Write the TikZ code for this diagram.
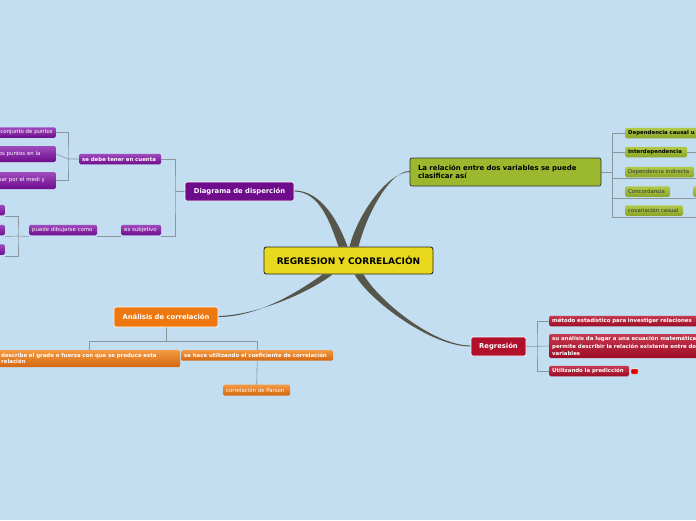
\documentclass[tikz,border=0pt]{standalone}
\usepackage{fontspec}
\setmainfont{DejaVu Sans}
\usetikzlibrary{positioning, calc}
\pgfdeclarelayer{bg}
\pgfsetlayers{bg,main}
\definecolor{bgblue}{HTML}{C3DEF1}
\definecolor{rootyel}{HTML}{E8D81E}
\definecolor{purp}{HTML}{6E0C8C}
\definecolor{purplight}{HTML}{A04CBE}
\definecolor{grn}{HTML}{9CB82E}
\definecolor{grnlight}{HTML}{B2CA4C}
\definecolor{grndark}{HTML}{8AA526}
\definecolor{redd}{HTML}{B0102A}
\definecolor{redlight}{HTML}{C6394E}
\definecolor{reddark}{HTML}{9C0C26}
\definecolor{orng}{HTML}{EE770F}
\definecolor{orlight}{HTML}{F39A42}
\definecolor{ordark}{HTML}{D4660E}
\definecolor{linegrey}{HTML}{8A979D}
\definecolor{curvegrey}{HTML}{57564B}
\tikzset{
  rootbox/.style = {rectangle, rounded corners=2.5pt, draw=black!85,
                    line width=0.9pt, fill=rootyel, minimum width=169pt,
                    minimum height=27pt, inner sep=0pt,
                    font=\fontsize{9}{10}\selectfont\bfseries},
  mmtop/.style   = {rectangle, rounded corners=2pt, draw=white,
                    line width=0.7pt, text=white, inner sep=0pt,
                    minimum height=19pt, align=center,
                    font=\fontsize{6.8}{7.9}\selectfont\bfseries},
  mmleaf/.style  = {rectangle, rounded corners=1.5pt, text=white,
                    inner xsep=3pt, inner ysep=0pt, minimum height=10.5pt,
                    anchor=west, align=left,
                    font=\fontsize{5.4}{6.4}\selectfont},
  leafbf/.style  = {font=\fontsize{5.4}{6.4}\selectfont\bfseries},
  purleaf/.style = {mmleaf, top color=purplight, bottom color=purp},
  grnleaf/.style = {mmleaf, top color=grnlight, bottom color=grndark,
                    text=black!80},
  redleaf/.style = {mmleaf, leafbf, top color=redlight, bottom color=reddark},
  orleaf/.style  = {mmleaf, top color=orlight, bottom color=ordark},
  mmline/.style  = {draw=linegrey, line width=0.6pt},
  mmcurve/.style = {fill=curvegrey},
}
\begin{document}
\begin{tikzpicture}[x=1pt, y=-1pt]
  \useasboundingbox (0,0) rectangle (696,520);
  % central topic and main branches
  \node[rootbox] (root) at (348.5,260.5) {REGRESION Y CORRELACIÓN};
  \node[mmtop, fill=purp, minimum width=109pt] (disp) at (239.5,191.5)
    {Diagrama de disperción};
  \node[mmtop, fill=grn, draw=black!80, text=black, minimum width=191pt,
        minimum height=28pt, text width=175pt, align=left,
        font=\fontsize{6.95}{8}\selectfont\bfseries] (clas) at (505.5,172)
    {La relación entre dos variables se puede\\clasificar así};
  \node[mmtop, fill=redd, minimum width=55pt] (reg) at (498.5,346.5) {Regresión};
  \node[mmtop, fill=orng, minimum width=104pt, minimum height=20pt] (ana)
    at (166,317) {Análisis de correlación};

  % purple branch
  \node[purleaf, leafbf, text width=76pt] (sedebe) at (79,159)
    {se debe tener en cuenta};
  \node[purleaf, text width=34pt] (subj) at (121,230) {es subjetivo};
  \node[purleaf, text width=62pt] (puede) at (29,230) {puede dibujarse como};
  \node[purleaf, anchor=east, text width=72pt, align=right] (conj)
    at (56,132.5) {conjunto de puntos};
  \node[purleaf, anchor=east, text width=54pt, minimum height=16pt] (ptos)
    at (56,154) {os puntos en la};
  \node[purleaf, anchor=east, text width=54pt, minimum height=17pt] (medi)
    at (56,180.5) {sar por el medi y};
  \node[purleaf, anchor=east, text width=14pt] (pa) at (5,210) {};
  \node[purleaf, anchor=east, text width=14pt] (pb) at (5,230) {};
  \node[purleaf, anchor=east, text width=14pt] (pc) at (5,249.5) {};

  % green branch
  \node[grnleaf, leafbf, text=black, text width=82pt] (gcaus) at (625,133)
    {Dependencia causal u};
  \node[grnleaf, leafbf, text=black, text width=56pt] (ginter) at (625,152)
    {Interdependencia};
  \node[grnleaf, text width=63pt] (gindir) at (625,172) {Dependencia indirecta};
  \node[grnleaf, text width=39pt] (gconc) at (625,191.5) {Concordancia};
  \node[grnleaf, text width=8pt] (gmore) at (693,191.5) {};
  \node[grnleaf, text width=52pt] (gcov) at (625,210.5) {covariación casual};

  % red branch
  \node[redleaf, text width=170pt] (rmet) at (549,321)
    {método estadístico para investigar relaciones};
  \node[redleaf, text width=180pt, minimum height=24pt,
        font=\fontsize{5.4}{7.5}\selectfont\bfseries] (rana) at (549,346)
    {su análisis da lugar a una ecuación matemática\\permite describir la
     relación existente entre dos\\variables};
  \node[redleaf, text width=74pt] (rpred) at (549,371) {Utilizando la predicción};
  \node[rectangle, rounded corners=0.5pt, fill=red!90!black, draw=white,
        line width=0.4pt, minimum width=7pt, minimum height=5pt,
        inner sep=0pt] (rmark) at (634.5,371.5) {};

  % orange branch
  \node[orleaf, leafbf, anchor=north west, text width=176pt, minimum height=17pt,
        font=\fontsize{5.4}{6.4}\selectfont\bfseries] (odesc) at (-2,350)
    {describe el grado o fuerza con que se produce esta\\relación};
  \node[orleaf, leafbf, anchor=north west, text width=146pt] (ocoef) at (181,350)
    {se hace utilizando el coeficiente de correlación};
  \node[orleaf, anchor=north west, text width=61pt, minimum height=11pt] (opar)
    at (223,384.5) {correlación de Parson};

  \begin{pgfonlayer}{bg}
    \fill[bgblue] (0,0) rectangle (696,520);
    % tapered curves from the central topic
    \fill[mmcurve] (disp.east) .. controls +(26,0) and +(-8,-22) ..
      ($(root.north west)+(75,0)$) -- ($(root.north west)+(84,0)$)
      .. controls +(-8,-22) and +(28,0) .. ([yshift=1pt]disp.east) -- cycle;
    \fill[mmcurve] (clas.west) .. controls +(-22,0) and +(8,-32) ..
      ($(root.north west)+(86,0)$) -- ($(root.north west)+(95,0)$)
      .. controls +(8,-32) and +(-20,0) .. ([yshift=1pt]clas.west) -- cycle;
    \fill[mmcurve] (ana.east) .. controls +(40,0) and +(-24,17) ..
      ($(root.south west)+(59,0)$) -- ($(root.south west)+(69,0)$)
      .. controls +(-22,17) and +(40,-1) .. ([yshift=1pt]ana.east) -- cycle;
    \fill[mmcurve] ($(root.south west)+(91,0)$) .. controls +(15,26) and +(-40,0) ..
      (reg.west) -- ([yshift=1pt]reg.west) .. controls +(-38,0) and +(14,25) ..
      ($(root.south west)+(100,0)$) -- cycle;
    % purple connectors
    \coordinate (dj) at (175,191.5);
    \draw[mmline] (disp.west) -- (dj);
    \draw[mmline] (sedebe.east) -| (dj) |- ([yshift=-1pt]subj.south east);
    \draw[mmline] ([yshift=-1pt]subj.south west) -- ([yshift=-1pt]puede.south east);
    \coordinate (sj) at (68,159);
    \draw[mmline] (conj.east) -| (sj) |- (medi.east);
    \draw[mmline] (ptos.east) -- (sj) -- (sedebe.west);
    \coordinate (pj) at (18,236);
    \draw[mmline] ([yshift=-1pt]puede.south west) -- (pj);
    \draw[mmline] ([yshift=-1pt]pa.south east) -| (pj) |- ([yshift=-1pt]pc.south east);
    \draw[mmline] ([yshift=-1pt]pb.south east) -- (pj);
    % green connectors
    \coordinate (gb) at (612,217);
    \draw[mmline] (clas.east) -- (clas.east -| gb);
    \draw[mmline] (gcaus.west) -| (gb) -- ++(90,0);
    \draw[mmline] (ginter.west -| gb) -- (ginter.west);
    \draw[mmline] (ginter.east) -- ++(20,0);
    \draw[mmline] ([yshift=-1pt]gindir.south -| gb) -- ++(90,0);
    \draw[mmline] ([yshift=-1pt]gconc.south -| gb) -- ++(90,0);
    % red connectors
    \coordinate (rj) at (537,346);
    \draw[mmline] (reg.east) -- (rana.west);
    \draw[mmline] (rmet.west) -| (rj) |- (rpred.west);
    % orange connectors
    \draw[mmline] (ana.south) -- ++(0,14) coordinate (aj);
    \draw[mmline] (odesc.north) |- (aj) -| (ocoef.north);
    \draw[mmline] (ocoef.south) -- (opar.north);
  \end{pgfonlayer}
\end{tikzpicture}
\end{document}
